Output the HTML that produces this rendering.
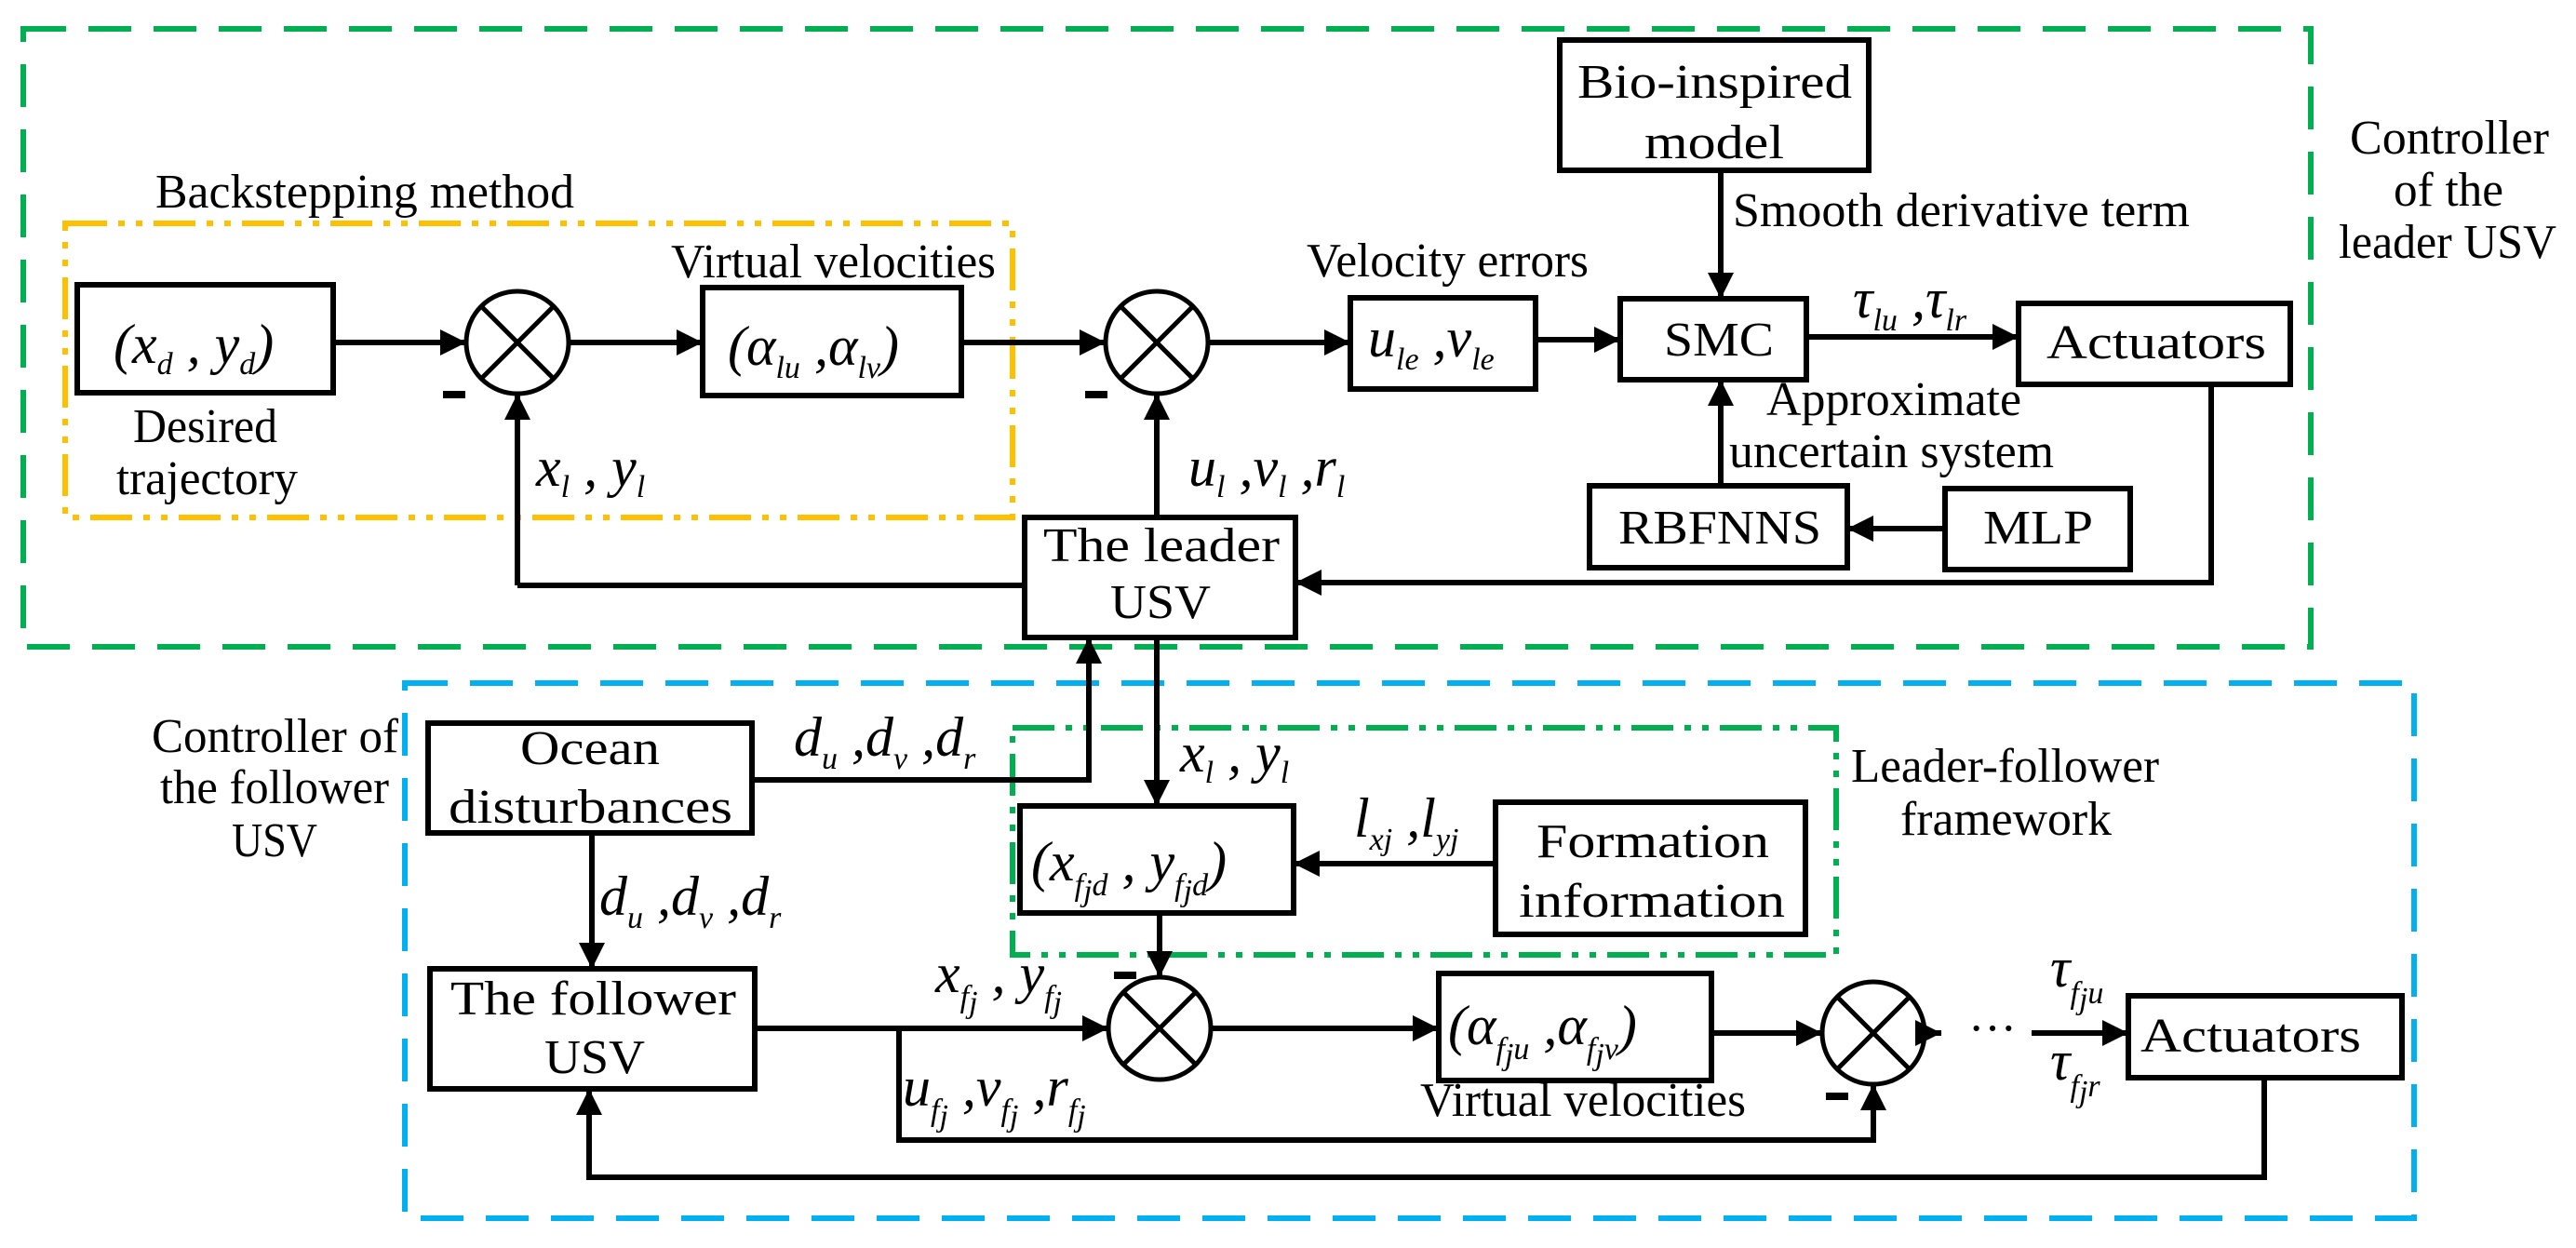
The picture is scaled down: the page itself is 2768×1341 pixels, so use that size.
<!DOCTYPE html>
<html><head><meta charset="utf-8"><style>
html,body{margin:0;padding:0;background:#fff}
svg{display:block}
text{fill:#000}
.t{font-size:52px}
.m{font-size:60px;font-style:italic}
.s{font-size:34px;font-style:italic}
</style></head><body>
<svg width="2768" height="1341" viewBox="0 0 2768 1341" xmlns="http://www.w3.org/2000/svg" font-family="'Liberation Serif','DejaVu Serif',serif">
<defs>
<marker id="a" viewBox="0 0 10 10" refX="10" refY="5" markerWidth="28" markerHeight="28" markerUnits="userSpaceOnUse" orient="auto"><path d="M0,0 L10,5 L0,10 z" fill="#000"/></marker>
</defs>
<rect x="25" y="31" width="2458" height="664" fill="none" stroke="#00b050" stroke-width="6" stroke-dasharray="46,24"/>
<rect x="435" y="734" width="2159" height="575" fill="none" stroke="#00b0f0" stroke-width="6" stroke-dasharray="46,24"/>
<rect x="70" y="240" width="1018" height="316" fill="none" stroke="#ffc000" stroke-width="6" stroke-dasharray="45,12,7,12,7,12"/>
<rect x="1088" y="782" width="885" height="244" fill="none" stroke="#00b050" stroke-width="6" stroke-dasharray="45,12,7,12,7,12"/>

<g fill="none" stroke="#000" stroke-width="6">
<rect x="83" y="306" width="275" height="116"/>
<rect x="755" y="309" width="278" height="116"/>
<rect x="1101" y="556" width="291" height="129"/>
<rect x="1451" y="320" width="199" height="98"/>
<rect x="1741" y="321" width="200" height="87"/>
<rect x="1676" y="43" width="332" height="140"/>
<rect x="2169" y="326" width="292" height="87"/>
<rect x="1708" y="522" width="277" height="88"/>
<rect x="2090" y="525" width="199" height="87"/>
<rect x="460" y="777" width="348" height="118"/>
<rect x="462" y="1041" width="349" height="129"/>
<rect x="1096" y="866" width="294" height="115"/>
<rect x="1607" y="862" width="333" height="142"/>
<rect x="1546" y="1046" width="293" height="115"/>
<rect x="2287" y="1070" width="294" height="88"/>
<g stroke-width="5">
<circle cx="556" cy="368" r="55"/><path d="M517,329 L595,407 M595,329 L517,407"/>
<circle cx="1243" cy="368" r="55"/><path d="M1204,329 L1282,407 M1282,329 L1204,407"/>
<circle cx="1246" cy="1105" r="55"/><path d="M1207,1066 L1285,1144 M1285,1066 L1207,1144"/>
<circle cx="2013" cy="1110" r="55"/><path d="M1974,1071 L2052,1149 M2052,1071 L1974,1149"/>
</g>
<g marker-end="url(#a)">
<path d="M358,368 H501"/>
<path d="M611,368 H755"/>
<path d="M1033,368 H1188"/>
<path d="M556,629 V423"/>
<path d="M1243,556 V423"/>
<path d="M1298,368 H1451"/>
<path d="M1650,365 H1741"/>
<path d="M1849,183 V321"/>
<path d="M1849,522 V408"/>
<path d="M1941,362 H2169"/>
<path d="M2090,568 H1985"/>
<path d="M2376,413 V626 H1392"/>
<path d="M808,838 H1170 V685"/>
<path d="M1243,685 V866"/>
<path d="M636,895 V1041"/>
<path d="M1246,981 V1050"/>
<path d="M1607,928 H1390"/>
<path d="M811,1105 H1191"/>
<path d="M1301,1105 H1546"/>
<path d="M1839,1110 H1958"/>
<path d="M966,1105 V1225 H2013 V1165"/>
<path d="M2433,1158 V1265 H633 V1170"/>
<path d="M2183,1110 H2287"/>
</g>
<path d="M556,629 H1101"/>
<path d="M2068,1110 H2086" marker-end="url(#a)"/>
</g>
<g fill="#000">
<rect x="476" y="420" width="24" height="8"/>
<rect x="1166" y="420" width="24" height="8"/>
<rect x="1197" y="1044" width="24" height="8"/>
<rect x="1962" y="1174" width="24" height="8"/>
</g>
<text class="t" x="2141" y="1122" text-anchor="middle">···</text>

<text class="t" x="167" y="223" textLength="450" lengthAdjust="spacingAndGlyphs">Backstepping method</text>
<text class="t" x="721" y="298" textLength="349" lengthAdjust="spacingAndGlyphs">Virtual velocities</text>
<text class="t" x="143" y="475" textLength="155" lengthAdjust="spacingAndGlyphs">Desired</text>
<text class="t" x="125" y="531" textLength="195" lengthAdjust="spacingAndGlyphs">trajectory</text>
<text class="t" x="1121" y="603" textLength="254" lengthAdjust="spacingAndGlyphs">The leader</text>
<text class="t" x="1193" y="664" textLength="108" lengthAdjust="spacingAndGlyphs">USV</text>
<text class="t" x="1404" y="297" textLength="303" lengthAdjust="spacingAndGlyphs">Velocity errors</text>
<text class="t" x="1788" y="382" textLength="118" lengthAdjust="spacingAndGlyphs">SMC</text>
<text class="t" x="1695" y="105" textLength="295" lengthAdjust="spacingAndGlyphs">Bio-inspired</text>
<text class="t" x="1767" y="170" textLength="150" lengthAdjust="spacingAndGlyphs">model</text>
<text class="t" x="1862" y="243" textLength="491" lengthAdjust="spacingAndGlyphs">Smooth derivative term</text>
<text class="t" x="2199" y="385" textLength="236" lengthAdjust="spacingAndGlyphs">Actuators</text>
<text class="t" x="1898" y="446" textLength="274" lengthAdjust="spacingAndGlyphs">Approximate</text>
<text class="t" x="1858" y="502" textLength="349" lengthAdjust="spacingAndGlyphs">uncertain system</text>
<text class="t" x="1739" y="584" textLength="218" lengthAdjust="spacingAndGlyphs">RBFNNS</text>
<text class="t" x="2131" y="584" textLength="118" lengthAdjust="spacingAndGlyphs">MLP</text>
<text class="t" x="2525" y="165" textLength="214" lengthAdjust="spacingAndGlyphs">Controller</text>
<text class="t" x="2572" y="221" textLength="118" lengthAdjust="spacingAndGlyphs">of the</text>
<text class="t" x="2513" y="277" textLength="234" lengthAdjust="spacingAndGlyphs">leader USV</text>
<text class="t" x="163" y="808" textLength="265" lengthAdjust="spacingAndGlyphs">Controller of</text>
<text class="t" x="172" y="863" textLength="246" lengthAdjust="spacingAndGlyphs">the follower</text>
<text class="t" x="249" y="920" textLength="92" lengthAdjust="spacingAndGlyphs">USV</text>
<text class="t" x="559" y="821" textLength="150" lengthAdjust="spacingAndGlyphs">Ocean</text>
<text class="t" x="482" y="884" textLength="305" lengthAdjust="spacingAndGlyphs">disturbances</text>
<text class="t" x="484" y="1090" textLength="307" lengthAdjust="spacingAndGlyphs">The follower</text>
<text class="t" x="585" y="1153" textLength="108" lengthAdjust="spacingAndGlyphs">USV</text>
<text class="t" x="1651" y="921" textLength="250" lengthAdjust="spacingAndGlyphs">Formation</text>
<text class="t" x="1632" y="985" textLength="286" lengthAdjust="spacingAndGlyphs">information</text>
<text class="t" x="1989" y="840" textLength="331" lengthAdjust="spacingAndGlyphs">Leader-follower</text>
<text class="t" x="2042" y="897" textLength="227" lengthAdjust="spacingAndGlyphs">framework</text>
<text class="t" x="1526" y="1199" textLength="350" lengthAdjust="spacingAndGlyphs">Virtual velocities</text>
<text class="t" x="2300" y="1130" textLength="237" lengthAdjust="spacingAndGlyphs">Actuators</text>

<text class="m" x="122" y="390">(x<tspan class="s" dy="12">d</tspan><tspan dy="-12"> , y</tspan><tspan class="s" dy="12">d</tspan><tspan dy="-12">)</tspan></text>
<text class="m" x="782" y="392">(α<tspan class="s" dy="14">lu</tspan><tspan dy="-14"> ,α</tspan><tspan class="s" dy="14">lv</tspan><tspan dy="-14">)</tspan></text>
<text class="m" x="576" y="522">x<tspan class="s" dy="12">l</tspan><tspan dy="-12"> , y</tspan><tspan class="s" dy="12">l</tspan></text>
<text class="m" x="1277" y="522">u<tspan class="s" dy="12">l</tspan><tspan dy="-12"> ,v</tspan><tspan class="s" dy="12">l</tspan><tspan dy="-12"> ,r</tspan><tspan class="s" dy="12">l</tspan></text>
<text class="m" x="1470" y="383">u<tspan class="s" dy="14">le</tspan><tspan dy="-14"> ,v</tspan><tspan class="s" dy="14">le</tspan></text>
<text class="m" x="1991" y="341">τ<tspan class="s" dy="14">lu</tspan><tspan dy="-14"> ,τ</tspan><tspan class="s" dy="14">lr</tspan></text>
<text class="m" x="853" y="812">d<tspan class="s" dy="14">u</tspan><tspan dy="-14"> ,d</tspan><tspan class="s" dy="14">v</tspan><tspan dy="-14"> ,d</tspan><tspan class="s" dy="14">r</tspan></text>
<text class="m" x="644" y="983">d<tspan class="s" dy="14">u</tspan><tspan dy="-14"> ,d</tspan><tspan class="s" dy="14">v</tspan><tspan dy="-14"> ,d</tspan><tspan class="s" dy="14">r</tspan></text>
<text class="m" x="1268" y="829">x<tspan class="s" dy="12">l</tspan><tspan dy="-12"> , y</tspan><tspan class="s" dy="12">l</tspan></text>
<text class="m" x="1108" y="946">(x<tspan class="s" dy="16">f</tspan><tspan class="s" font-size="22" dy="6">j</tspan><tspan class="s" dy="-6">d</tspan><tspan dy="-16"> , y</tspan><tspan class="s" dy="16">f</tspan><tspan class="s" font-size="22" dy="6">j</tspan><tspan class="s" dy="-6">d</tspan><tspan dy="-16">)</tspan></text>
<text class="m" x="1455" y="899">l<tspan class="s" dy="14">xj</tspan><tspan dy="-14"> ,l</tspan><tspan class="s" dy="14">yj</tspan></text>
<text class="m" x="1005" y="1066">x<tspan class="s" dy="16">f</tspan><tspan class="s" font-size="22" dy="6">j</tspan><tspan dy="-22"> , y</tspan><tspan class="s" dy="16">f</tspan><tspan class="s" font-size="22" dy="6">j</tspan></text>
<text class="m" x="970" y="1188">u<tspan class="s" dy="16">f</tspan><tspan class="s" font-size="22" dy="6">j</tspan><tspan dy="-22"> ,v</tspan><tspan class="s" dy="16">f</tspan><tspan class="s" font-size="22" dy="6">j</tspan><tspan dy="-22"> ,r</tspan><tspan class="s" dy="16">f</tspan><tspan class="s" font-size="22" dy="6">j</tspan></text>
<text class="m" x="1556" y="1122">(α<tspan class="s" dy="16">f</tspan><tspan class="s" font-size="22" dy="6">j</tspan><tspan class="s" dy="-6">u</tspan><tspan dy="-16"> ,α</tspan><tspan class="s" dy="16">f</tspan><tspan class="s" font-size="22" dy="6">j</tspan><tspan class="s" dy="-6">v</tspan><tspan dy="-16">)</tspan></text>
<text class="m" x="2203" y="1060">τ<tspan class="s" dy="18">f</tspan><tspan class="s" font-size="22" dy="6">j</tspan><tspan class="s" dy="-6">u</tspan></text>
<text class="m" x="2203" y="1160">τ<tspan class="s" dy="18">f</tspan><tspan class="s" font-size="22" dy="6">j</tspan><tspan class="s" dy="-6">r</tspan></text>
</svg>
</body></html>
